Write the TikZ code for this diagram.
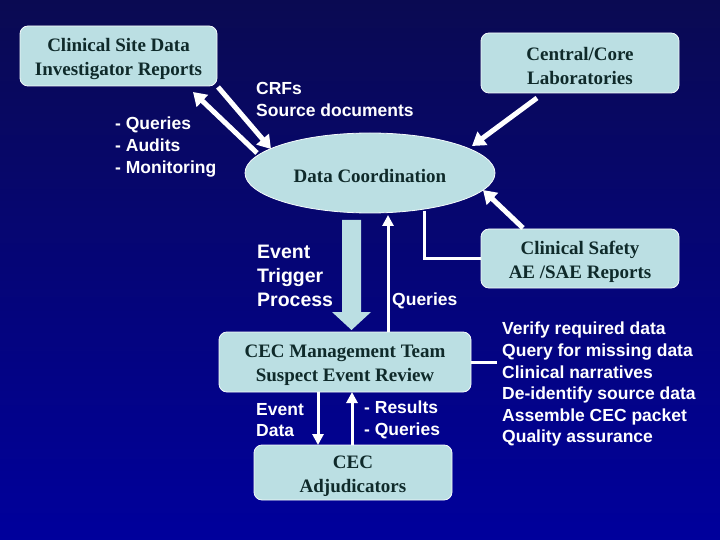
\documentclass[tikz,border=0pt]{standalone}
\usepackage{fontspec}
\setmainfont{Liberation Serif}
\setsansfont{Liberation Sans}
\usetikzlibrary{arrows.meta,shapes.geometric}
\definecolor{boxfill}{HTML}{BBDFE3}
\definecolor{boxtext}{HTML}{0F2A2A}
\definecolor{bgtop}{HTML}{0A0A52}
\definecolor{bgbot}{HTML}{00009C}
\newcommand{\boxstrut}{\rule{0pt}{19.5pt}}
\tikzset{
  boxnode/.style={draw=white!85!boxfill, line width=0.8pt, fill=boxfill, rounded corners=8pt,
    text=boxtext, font=\fontsize{19}{24}\selectfont\bfseries, align=center, inner sep=0pt},
  lbl/.style={text=white, font=\sffamily\bfseries\fontsize{17.5}{21.6}\selectfont, align=left, anchor=north west, inner sep=0pt},
  bigarrow/.style={draw=white, line width=5pt, -{Triangle[width=16pt,length=13pt]}},
  thinarrow/.style={draw=white, line width=3pt, -{Triangle[width=11pt,length=11pt]}},
  thinline/.style={draw=white, line width=3pt},
}
\begin{document}
\begin{tikzpicture}[x=1pt,y=-1pt]
\useasboundingbox (0,0) rectangle (720,540);
\shade[top color=bgtop, bottom color=bgbot] (0,0) rectangle (720,540);

% boxes
\node[boxnode, minimum width=197pt, minimum height=60pt] (site) at (118.5,56) {\boxstrut Clinical Site Data\\Investigator Reports};
\node[boxnode, minimum width=198pt, minimum height=60pt] (lab) at (580,63) {\boxstrut Central/Core\\Laboratories};
\node[draw=white!85!boxfill, line width=0.8pt, fill=boxfill, ellipse, minimum width=250pt, minimum height=80pt,
  text=boxtext, font=\fontsize{19}{24}\selectfont\bfseries, inner sep=0pt] (dc) at (370,173) {\boxstrut Data Coordination};
\node[boxnode, minimum width=198pt, minimum height=59pt] (safety) at (580,258.5) {\boxstrut Clinical Safety\\AE /SAE Reports};
\node[boxnode, minimum width=252pt, minimum height=60pt] (cec) at (345,362) {\boxstrut CEC Management Team\\Suspect Event Review};
\node[boxnode, minimum width=198pt, minimum height=55pt] (adj) at (353,472.5) {\boxstrut CEC\\Adjudicators};

% labels
\node[lbl] (qam) at (115,117) {- Queries\\- Audits\\- Monitoring};
\node[lbl] (crf) at (256,82) {CRFs\\Source documents};
\node[lbl, font=\sffamily\bfseries\fontsize{19.5}{24}\selectfont] (etp) at (257,245) {Event\\Trigger\\Process};
\node[lbl] (qlab) at (392,293) {Queries};
\node[lbl] (edata) at (256,403) {Event\\Data};
\node[lbl] (resq) at (364,401) {- Results\\- Queries};
\node[lbl] (tasks) at (502,322) {Verify required data\\Query for missing data\\Clinical narratives\\De-identify source data\\Assemble CEC packet\\Quality assurance};

% arrow end points
\coordinate (a1s) at (257,153);
\coordinate (a1e) at (193,92);
\coordinate (a2s) at (218,87);
\coordinate (a2e) at (271,149);
\coordinate (a3s) at (537,98);
\coordinate (a3e) at (472,146);
\coordinate (a4s) at (523,228);
\coordinate (a4e) at (483,190);
\coordinate (qs) at (388,332);
\coordinate (qe) at (388,215);
\coordinate (c1) at (424,211);
\coordinate (c2) at (424,258);
\coordinate (l2) at (497,362);

\draw[bigarrow] (a1s) -- (a1e);
\draw[bigarrow] (a2s) -- (a2e);
\draw[bigarrow] (a3s) -- (a3e);
\draw[bigarrow] (a4s) -- (a4e);
\draw[thinarrow] (qs) -- (qe);
\draw[thinline] (c1) -- (c2) -- (safety.west |- c2);
\draw[thinline] (cec.east) -- (l2);
\draw[thinarrow] (318,392) -- (318,445);
\draw[thinarrow] (352,445) -- (352,392);

% block arrow (event trigger)
\fill[boxfill] (342,220) -- (361,220) -- (361,312) -- (371,312) -- (351.5,330) -- (332,312) -- (342,312) -- cycle;
\end{tikzpicture}
\end{document}
